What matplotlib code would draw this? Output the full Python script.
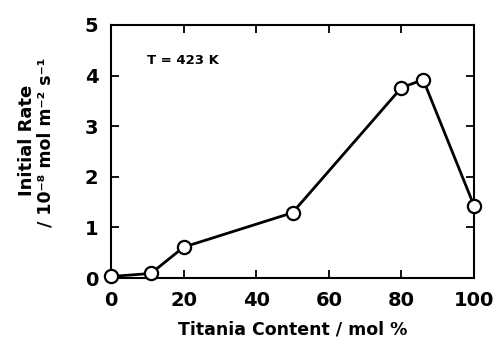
import matplotlib.pyplot as plt

# data
titania = [0, 11, 20, 50, 80, 86, 100]
rate = [0.03, 0.09, 0.61, 1.29, 3.76, 3.92, 1.43]
xticks = [0, 20, 40, 60, 80, 100]
yticks = [0, 1, 2, 3, 4, 5]

plt.rcParams['font.family'] = ['DejaVu Sans']
plt.rcParams['font.weight'] = 'bold'

fig = plt.figure(figsize=(4.93, 3.41), dpi=100)
ax = fig.add_axes([111/493, 1 - 278/341, 363/493, 253/341])

ax.plot(titania, rate, '-o', color='k', lw=2, ms=9.5,
        mfc='white', mec='k', mew=1.6, clip_on=False, zorder=5)

ax.set_xlim(0, 100)
ax.set_ylim(0, 5)
ax.set_xticks(xticks)
ax.set_yticks(yticks)
ax.tick_params(direction='in', length=6, width=1.3, labelsize=14,
               top=True, right=True, pad=9)
for lab in ax.get_xticklabels() + ax.get_yticklabels():
    lab.set_fontweight('bold')
for s in ax.spines.values():
    s.set_linewidth(1.5)

ax.text(9.8, 4.29, 'T = 423 K', fontsize=9.5, fontweight='bold', va='center')

ax.set_xlabel('Titania Content / mol %', fontsize=12.5, fontweight='bold', labelpad=8)
fig.text(27/493, 1 - 140/341, 'Initial Rate', rotation=90, fontsize=13,
         fontweight='bold', ha='center', va='center')
fig.text(46/493, 1 - 142/341, '/ 10\u207b\u2078 mol m\u207b\u00b2 s\u207b\u00b9',
         rotation=90, fontsize=12.5, fontweight='bold', ha='center', va='center')

fig.savefig('out.png', dpi=100)
